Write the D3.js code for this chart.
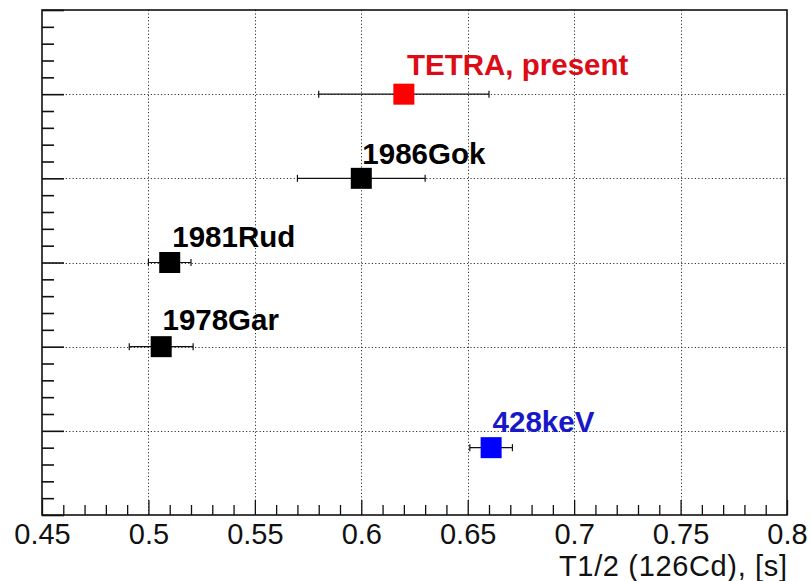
<!DOCTYPE html>
<html>
<head>
<meta charset="utf-8">
<script src="https://cdn.jsdelivr.net/npm/d3@7/dist/d3.min.js"></script>
<style>
  html, body { margin: 0; padding: 0; background: #fff; }
  svg { display: block; }
</style>
</head>
<body>
<svg id="chart" width="811" height="581"></svg>
<script>
// ---- data ----
const labels = ["TETRA, present", "1986Gok", "1981Rud", "1978Gar", "428keV"];
const halfLife = [0.62, 0.60, 0.51, 0.506, 0.661];
const halfLifeErr = [0.04, 0.03, 0.01, 0.015, 0.01];
const rowY = [5, 4, 3, 2, 0.8];
const labelX = [0.6215, 0.6005, 0.5112, 0.5066, 0.6617];
const labelY = [5.23, 4.165, 3.19, 2.2, 0.99];
const colors = ["#ff0000", "#000000", "#000000", "#000000", "#0000ff"];
const textColors = ["#dc0c16", "#000000", "#000000", "#000000", "#1818c8"];
const xTicks = [0.45, 0.5, 0.55, 0.6, 0.65, 0.7, 0.75, 0.8];
const xTickLabels = ["0.45", "0.5", "0.55", "0.6", "0.65", "0.7", "0.75", "0.8"];
const yTicks = [0, 1, 2, 3, 4, 5, 6];
const xTitle = "T1/2 (126Cd), [s]";

// ---- layout ----
const L = 42, R = 787, T = 10, B = 515;
const svg = d3.select("#chart");
const x = d3.scaleLinear().domain([0.45, 0.8]).range([L, R]);
const y = d3.scaleLinear().domain([0, 6]).range([B, T]);

const xMinor = d3.range(0, 36).map(i => 0.45 + i * 0.01).filter((v, i) => i % 5 !== 0);
const yMinor = d3.range(0, 31).map(i => i * 0.2).filter((v, i) => i % 5 !== 0);

// grid
const grid = svg.append("g").attr("stroke", "#333").attr("stroke-width", 1)
  .attr("stroke-dasharray", "1.2,2.2");
grid.selectAll("line.vx").data(xTicks.slice(1, -1)).join("line")
  .attr("x1", d => Math.round(x(d)) + 0.5).attr("x2", d => Math.round(x(d)) + 0.5)
  .attr("y1", T).attr("y2", B);
grid.selectAll("line.hy").data(yTicks.slice(1, -1)).join("line")
  .attr("x1", L).attr("x2", R)
  .attr("y1", d => Math.round(y(d)) + 0.5).attr("y2", d => Math.round(y(d)) + 0.5);

// frame
svg.append("rect").attr("x", L).attr("y", T).attr("width", R - L).attr("height", B - T)
  .attr("fill", "none").attr("stroke", "#111").attr("stroke-width", 1.6);

// x axis
const xAxis = d3.axisBottom(x).tickValues(xTicks)
  .tickFormat((d, i) => xTickLabels[i]).tickSize(-15).tickPadding(8);
const gx = svg.append("g").attr("transform", `translate(0,${B})`).call(xAxis);
gx.select(".domain").remove();
gx.selectAll(".tick line").attr("stroke", "#111").attr("stroke-width", 1.3);
gx.selectAll(".tick text").attr("font-family", "Liberation Sans, Arial, sans-serif")
  .attr("font-size", 29).attr("fill", "#111");

const gxm = svg.append("g").attr("transform", `translate(0,${B})`)
  .call(d3.axisBottom(x).tickValues(xMinor).tickFormat("").tickSize(-10));
gxm.select(".domain").remove();
gxm.selectAll(".tick line").attr("stroke", "#111").attr("stroke-width", 1.3);

// y axis (no labels)
const gy = svg.append("g").attr("transform", `translate(${L},0)`)
  .call(d3.axisLeft(y).tickValues(yTicks).tickFormat("").tickSize(-22));
gy.select(".domain").remove();
gy.selectAll(".tick line").attr("stroke", "#111").attr("stroke-width", 1.6);
const gym = svg.append("g").attr("transform", `translate(${L},0)`)
  .call(d3.axisLeft(y).tickValues(yMinor).tickFormat("").tickSize(-12));
gym.select(".domain").remove();
gym.selectAll(".tick line").attr("stroke", "#111").attr("stroke-width", 1.6);

// x title
svg.append("text").attr("x", R).attr("y", 576).attr("text-anchor", "end")
  .attr("font-family", "Liberation Sans, Arial, sans-serif").attr("font-size", 29)
  .attr("textLength", 228).attr("lengthAdjust", "spacing")
  .attr("fill", "#111").text(xTitle);

// points with error bars
const pts = svg.append("g");
const idx = d3.range(labels.length);
const capH = 3.5, ms = 21;
pts.selectAll("line.err").data(idx).join("line")
  .attr("x1", i => x(halfLife[i] - halfLifeErr[i])).attr("x2", i => x(halfLife[i] + halfLifeErr[i]))
  .attr("y1", i => y(rowY[i])).attr("y2", i => y(rowY[i]))
  .attr("stroke", "#111").attr("stroke-width", 1.2);
pts.selectAll("line.capl").data(idx).join("line")
  .attr("x1", i => x(halfLife[i] - halfLifeErr[i])).attr("x2", i => x(halfLife[i] - halfLifeErr[i]))
  .attr("y1", i => y(rowY[i]) - capH).attr("y2", i => y(rowY[i]) + capH)
  .attr("stroke", "#111").attr("stroke-width", 1.2);
pts.selectAll("line.capr").data(idx).join("line")
  .attr("x1", i => x(halfLife[i] + halfLifeErr[i])).attr("x2", i => x(halfLife[i] + halfLifeErr[i]))
  .attr("y1", i => y(rowY[i]) - capH).attr("y2", i => y(rowY[i]) + capH)
  .attr("stroke", "#111").attr("stroke-width", 1.2);
pts.selectAll("rect").data(idx).join("rect")
  .attr("x", i => x(halfLife[i]) - ms / 2).attr("y", i => y(rowY[i]) - ms / 2)
  .attr("width", ms).attr("height", ms).attr("fill", i => colors[i]);

// labels
svg.append("g").selectAll("text").data(idx).join("text")
  .attr("x", i => x(labelX[i])).attr("y", i => y(labelY[i]))
  .attr("font-family", "Liberation Sans, Arial, sans-serif").attr("font-weight", "bold")
  .attr("font-size", 29.5).attr("fill", i => textColors[i]).text(i => labels[i]);
</script>
</body>
</html>
